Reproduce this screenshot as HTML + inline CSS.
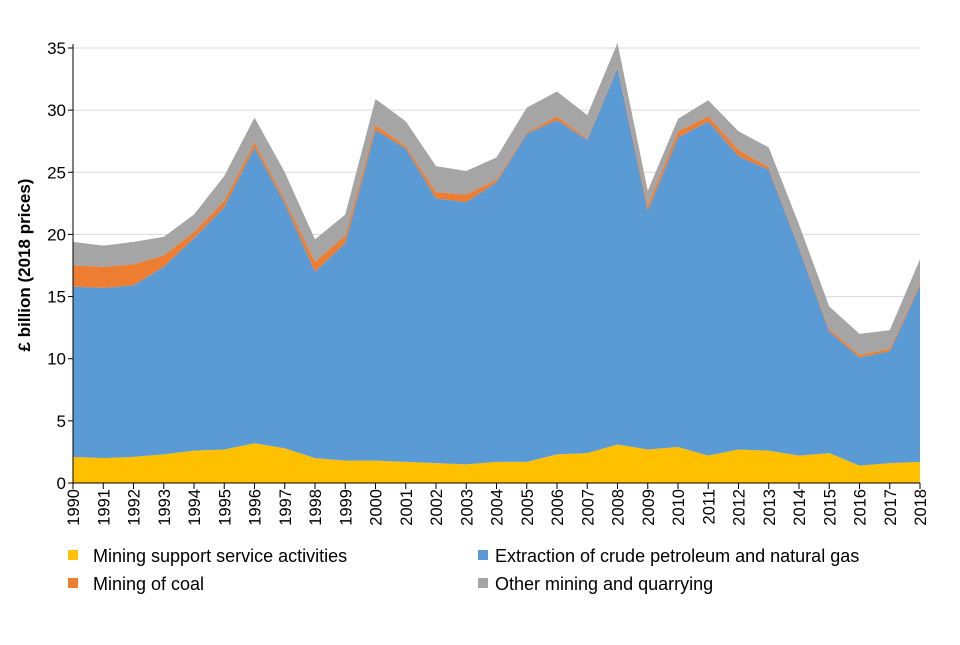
<!DOCTYPE html>
<html><head><meta charset="utf-8"><style>
body{margin:0;background:#fff;font-family:"Liberation Sans",Arial,sans-serif}
svg text{font-family:"Liberation Sans",Arial,sans-serif}
</style></head><body>
<svg id="c" width="960" height="640"></svg>
<script>
const years=[1990,1991,1992,1993,1994,1995,1996,1997,1998,1999,2000,2001,2002,2003,2004,2005,2006,2007,2008,2009,2010,2011,2012,2013,2014,2015,2016,2017,2018];
const support=[2.1,2.0,2.1,2.3,2.6,2.7,3.2,2.8,2.0,1.8,1.8,1.7,1.6,1.5,1.7,1.7,2.3,2.4,3.1,2.7,2.9,2.2,2.7,2.6,2.2,2.4,1.4,1.6,1.7];
const petroleum=[13.7,13.7,13.8,15.1,17.1,19.5,23.8,19.7,15.0,17.5,26.6,25.2,21.3,21.1,22.5,26.4,26.9,25.2,30.3,19.2,24.9,26.9,23.6,22.6,16.7,9.8,8.7,9.0,14.2];
const coal=[1.7,1.7,1.7,0.9,0.5,0.5,0.4,0.3,0.8,0.6,0.4,0.2,0.5,0.6,0.2,0.1,0.3,0.1,0.1,0.4,0.5,0.4,0.5,0.2,0.1,0.2,0.2,0.2,0.2];
const other=[1.9,1.7,1.8,1.5,1.4,2.0,2.0,2.2,1.8,1.7,2.1,2.0,2.1,1.9,1.8,2.0,2.0,1.9,1.9,1.2,1.0,1.3,1.5,1.6,1.8,1.8,1.7,1.5,1.9];
const yTicks=[0,5,10,15,20,25,30,35];
const seriesNames=["Mining support service activities","Extraction of crude petroleum and natural gas","Mining of coal","Other mining and quarrying"];
const colors=["#FFC000","#5B9BD5","#ED7D31","#A5A5A5"];
const NS="http://www.w3.org/2000/svg";
const svg=document.getElementById('c');
const L=73,R=920,T=48,B=483,yMax=35;
const x=i=>L+(R-L)*i/(years.length-1);
const y=v=>B-(B-T)*v/yMax;
function mk(t,a){const e=document.createElementNS(NS,t);for(const k in a)e.setAttribute(k,a[k]);svg.appendChild(e);return e;}
yTicks.forEach(v=>{
 if(v>0){const g=mk('line',{x1:L,x2:R,y1:y(v),y2:y(v),stroke:'#d9d9d9','stroke-width':1});
 
 }
 const t=mk('text',{x:L-7,y:y(v)+6,'text-anchor':'end','font-size':17,fill:'#000'});t.textContent=v;
 
 
 mk('line',{x1:L-5,x2:L,y1:y(v),y2:y(v),stroke:'#000'});
});
const series=[support,petroleum,coal,other];
let base=years.map(()=>0);
series.forEach((s,si)=>{
 const top=base.map((b,i)=>b+s[i]);
 let d='M'+years.map((_,i)=>x(i)+','+y(top[i])).join(' L');
 for(let i=years.length-1;i>=0;i--)d+=' L'+x(i)+','+y(base[i]);
 const p=mk('path',{d:d+'Z',fill:colors[si]});
 
 
 base=top;
});
mk('line',{x1:L,x2:L,y1:T-4,y2:B,stroke:'#000'});
mk('line',{x1:L,x2:R,y1:B,y2:B,stroke:'#000'});
years.forEach((yr,i)=>{
 mk('line',{x1:x(i),x2:x(i),y1:B,y2:B+6,stroke:'#000'});
 const t=mk('text',{x:0,y:0,transform:`translate(${x(i)+6},${B+6}) rotate(-90)`,'text-anchor':'end','font-size':16.5,fill:'#000'});
 t.textContent=yr;
 
 
});
const yt=mk('text',{transform:`translate(30,265) rotate(-90)`,'text-anchor':'middle','font-size':17,'font-weight':'bold',fill:'#000'});
yt.setAttribute('xml:space','preserve');
yt.textContent='£ billion  (2018 prices)';


const lpos=[[68,556],[478,556],[68,584],[478,584]];
[0,1,2,3].forEach((si,k)=>{
 const [lx,ly]=lpos[k];
 const r=mk('rect',{x:lx,y:ly-6,width:10,height:10,fill:colors[si]});
 
 
 const t=mk('text',{x:lx+(k%2?17:25),y:ly+6,'font-size':18,fill:'#000'});t.textContent=seriesNames[si];
 
 
});
</script>
</body></html>
